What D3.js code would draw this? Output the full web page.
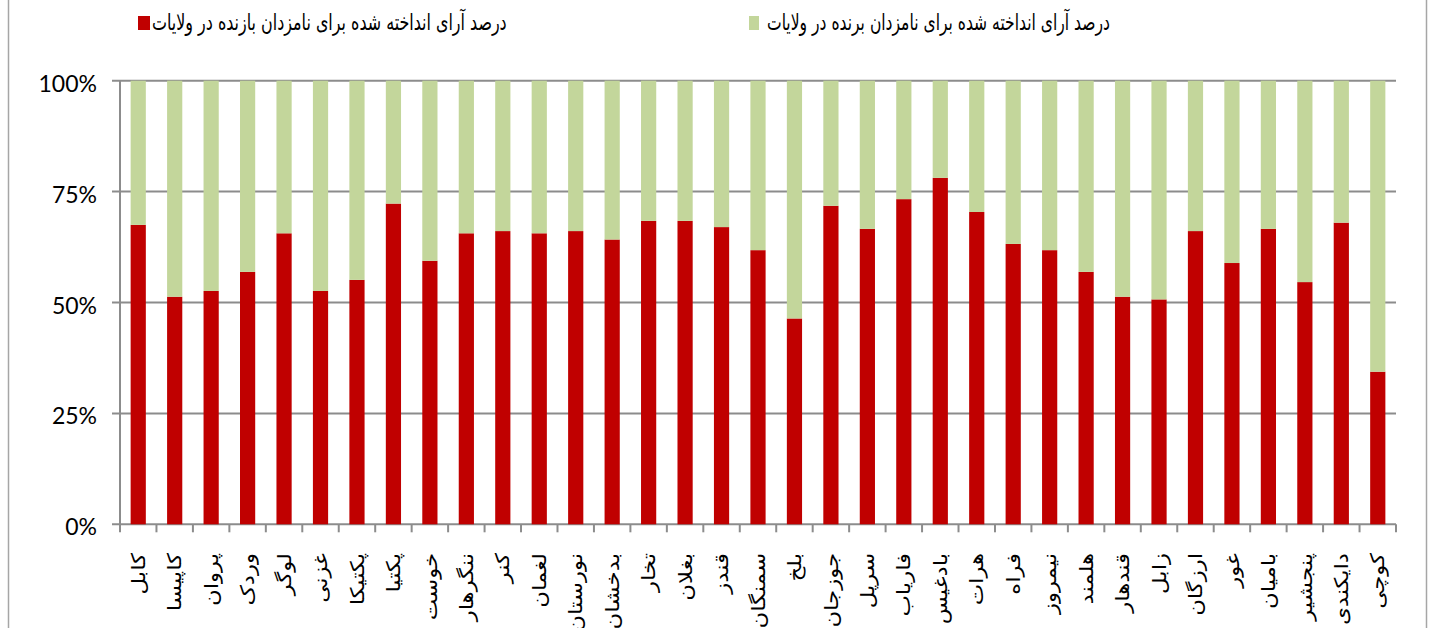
<!DOCTYPE html>
<html>
<head>
<meta charset="utf-8">
<script src="https://cdn.jsdelivr.net/npm/d3@7"></script>
<style>
  body { margin: 0; background: #fff; }
  svg { display: block; }
</style>
</head>
<body>
<div id="chart"></div>
<script>
// provinces, in the order they appear left to right
const provinces = [
  'کابل', 'کاپیسا', 'پروان', 'وردک', 'لوگر', 'غزنی', 'پکتیکا', 'پکتیا', 'خوست',
  'ننگرهار', 'کنر', 'لغمان', 'نورستان', 'بدخشان', 'تخار', 'بغلان', 'قندز', 'سمنگان',
  'بلخ', 'جوزجان', 'سرپل', 'فاریاب', 'بادغیس', 'هرات', 'فراه', 'نیمروز', 'هلمند',
  'قندهار', 'زابل', 'ارزگان', 'غور', 'بامیان', 'پنجشیر', 'دایکندی', 'کوچی'
];

// share of votes cast for losing candidates (%)
const losersShare = [
  67.5, 51.3, 52.6, 56.9, 65.6, 52.6, 55.1, 72.3, 59.4,
  65.6, 66.1, 65.6, 66.1, 64.2, 68.4, 68.4, 67.0, 61.8,
  46.4, 71.8, 66.6, 73.3, 78.1, 70.4, 63.2, 61.8, 56.9,
  51.3, 50.7, 66.1, 58.9, 66.6, 54.6, 68.0, 34.4
];

const yTicks = [0, 25, 50, 75, 100];

const seriesNames = {
  losers: 'درصد آرای انداخته شده برای نامزدان بازنده در ولایات',
  winners: 'درصد آرای انداخته شده برای نامزدان برنده در ولایات'
};

const colors = { losers: '#C00000', winners: '#C3D69B' };

// table for the stack
const rows = provinces.map((p, i) => ({
  province: p,
  losers: losersShare[i],
  winners: 100 - losersShare[i]
}));

const config = {
  width: 1430, height: 628,
  plotLeft: 120, plotRight: 1396,
  plotTop: 80.7, plotBottom: 524.3
};

const svg = d3.select('#chart').append('svg')
  .attr('width', config.width)
  .attr('height', config.height);

// chart area border (only left and right edges are visible)
svg.selectAll('.frame')
  .data([8.5, 1426.5])
  .join('line')
  .attr('class', 'frame')
  .attr('x1', d => d).attr('x2', d => d)
  .attr('y1', 0).attr('y2', config.height)
  .attr('stroke', '#a6a6a6')
  .attr('stroke-width', 1.5);

const scaleX = d3.scaleBand()
  .domain(provinces)
  .range([config.plotLeft, config.plotRight])
  .paddingInner(0.583)
  .paddingOuter(0.2915);

const scaleY = d3.scaleLinear()
  .domain([0, 100])
  .range([config.plotBottom, config.plotTop]);

// gridlines + y ticks
svg.append('g')
  .attr('class', 'grid')
  .selectAll('line')
  .data(yTicks)
  .join('line')
  .attr('x1', config.plotLeft - 8)
  .attr('x2', config.plotRight)
  .attr('y1', d => scaleY(d))
  .attr('y2', d => scaleY(d))
  .attr('stroke', '#8c8c8c')
  .attr('stroke-width', 2);

// y axis labels
svg.append('g')
  .selectAll('text')
  .data(yTicks)
  .join('text')
  .attr('x', 97)
  .attr('y', d => scaleY(d) + 11)
  .attr('text-anchor', 'end')
  .style('font-family', 'Lato, "Open Sans", sans-serif')
  .style('font-size', '23px')
  .attr('fill', '#000')
  .text(d => d + '%');

// bars
const stack = d3.stack().keys(['losers', 'winners']);
const layers = stack(rows);

svg.append('g')
  .selectAll('g')
  .data(layers)
  .join('g')
  .attr('fill', d => colors[d.key])
  .selectAll('rect')
  .data(d => d)
  .join('rect')
  .attr('x', d => scaleX(d.data.province))
  .attr('width', scaleX.bandwidth())
  .attr('y', d => scaleY(d[1]))
  .attr('height', d => scaleY(d[0]) - scaleY(d[1]));

// y axis line
svg.append('line')
  .attr('x1', config.plotLeft).attr('x2', config.plotLeft)
  .attr('y1', config.plotTop).attr('y2', config.plotBottom)
  .attr('stroke', '#8c8c8c')
  .attr('stroke-width', 2);

// x axis ticks at category boundaries
const step = scaleX.step();
const boundaries = d3.range(provinces.length + 1).map(i => config.plotLeft + i * step);
svg.append('g')
  .selectAll('line')
  .data(boundaries)
  .join('line')
  .attr('x1', d => d).attr('x2', d => d)
  .attr('y1', config.plotBottom)
  .attr('y2', config.plotBottom + 8)
  .attr('stroke', '#8c8c8c')
  .attr('stroke-width', 2);

// category labels, rotated (the longest ones run off the bottom, as in the original)
svg.append('g')
  .selectAll('text')
  .data(provinces)
  .join('text')
  .attr('transform', d => `translate(${scaleX(d) + scaleX.bandwidth() / 2}, 553) rotate(-90) scale(1.2, 1)`)
  .attr('dy', '0.35em')
  .attr('text-anchor', 'end')
  .style('font-family', '"DejaVu Sans", sans-serif')
  .style('font-size', '19px')
  .attr('fill', '#000')
  .text(d => d);

// legend
const legendItems = [
  { key: 'losers', sx: 138, tx: 152, tw: 355 },
  { key: 'winners', sx: 749, tx: 767, tw: 343 }
];

const legend = svg.append('g').attr('class', 'legend');
legend.selectAll('rect')
  .data(legendItems)
  .join('rect')
  .attr('x', d => d.sx)
  .attr('y', 16)
  .attr('width', d => d.key === 'losers' ? 12 : 10)
  .attr('height', 14)
  .attr('fill', d => colors[d.key]);

legend.selectAll('text')
  .data(legendItems)
  .join('text')
  .attr('text-anchor', 'start')
  .style('font-family', '"DejaVu Sans", sans-serif')
  .style('font-size', '23px')
  .attr('fill', '#000')
  .text(d => seriesNames[d.key])
  .each(function(d) {
    // squeeze the label horizontally to the width it has in the original
    const w = this.getComputedTextLength();
    d3.select(this).attr('transform', `translate(${d.tx}, 30) scale(${d.tw / w}, 1)`);
  });
</script>
</body>
</html>
